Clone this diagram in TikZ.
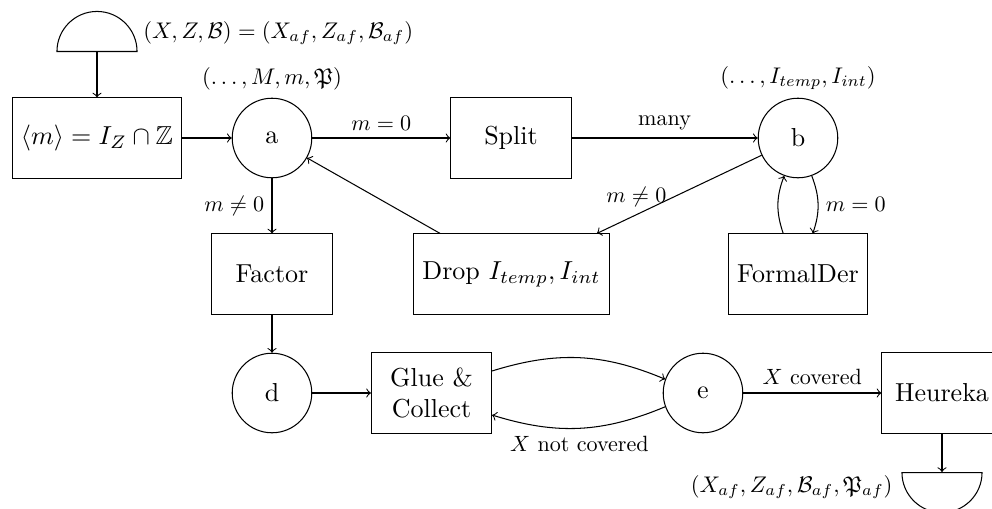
\documentclass[tikz,border=0pt]{standalone}
\usepackage{amsmath,amssymb}
\usetikzlibrary{shapes.geometric}
\begin{document}
\begin{tikzpicture}[x=0.3846pt,y=-0.3846pt,
  box/.style={draw, rectangle, minimum width=46.2pt, minimum height=30.8pt, inner sep=3.33pt},
  state/.style={draw, circle, minimum size=30.6pt, inner sep=1pt},
  half/.style={draw, shape=semicircle, minimum width=30.8pt, minimum height=15.4pt, inner sep=0pt},
  lbl/.style={scale=0.85},
  tag/.style={scale=0.87}]
\useasboundingbox (0,0) rectangle (992,509);
\clip (0,0) rectangle (992,509);
% top source
\node[half, anchor=chord center] (src) at (97,52) {};
\node[tag, anchor=west, inner sep=0pt] (srclbl) at (143,33) {$(X,Z,\mathcal{B}) = (X_{af},Z_{af},\mathcal{B}_{af})$};
% row 1
\node[box] (init) at (97,138) {$\langle m\rangle = I_Z\cap\mathbb{Z}$};
\node[state, label={[tag]above:$(\ldots,M,m,\mathfrak{P})$}] (a) at (272,138) {a};
\node[box] (split) at (511,138) {Split};
\node[state, label={[tag]above:$(\ldots,I_{temp},I_{int})$}] (b) at (798,138) {b};
% row 2
\node[box] (factor) at (272,274) {Factor};
\node[box] (drop) at (511.5,274) {Drop $I_{temp},I_{int}$};
\node[box] (formal) at (798,274) {FormalDer};
% row 3
\node[state] (d) at (272,393) {d};
\node[box, align=center] (glue) at (431.5,393) {Glue \&\\Collect};
\node[state] (e) at (703,393) {e};
\node[box] (heureka) at (942,393) {Heureka};
% sink
\node[half, shape border rotate=180, anchor=chord center] (sink) at (942,472) {};
\node[tag, anchor=east, inner sep=0pt] (sinklbl) at (893,487) {$(X_{af},Z_{af},\mathcal{B}_{af},\mathfrak{P}_{af})$};
% edges
\draw[->] (src) -- (init);
\draw[->] (init) -- (a);
\draw[->] (a) -- node[lbl, above] {$m=0$} (split);
\draw[->] (split) -- node[lbl, above] {many} (b);
\draw[->] (b) -- node[lbl, above, pos=0.76] {$m\neq 0$} (drop);
\draw[->] (drop) -- (a);
\draw[->] (a) -- node[lbl, left] {$m\neq 0$} (factor);
\draw[->] (b) to[bend left=20] node[lbl, right] {$m=0$} (formal);
\draw[->] (formal) to[bend left=20] (b);
\draw[->] (factor) -- (d);
\draw[->] (d) -- (glue);
\draw[->] (glue) to[bend left=20] (e);
\draw[->] (e) to[bend left=20] node[lbl, below] {$X$ not covered} (glue);
\draw[->] (e) -- node[lbl, above] {$X$ covered} (heureka);
\draw[->] (heureka) -- (sink);
\end{tikzpicture}
\end{document}
